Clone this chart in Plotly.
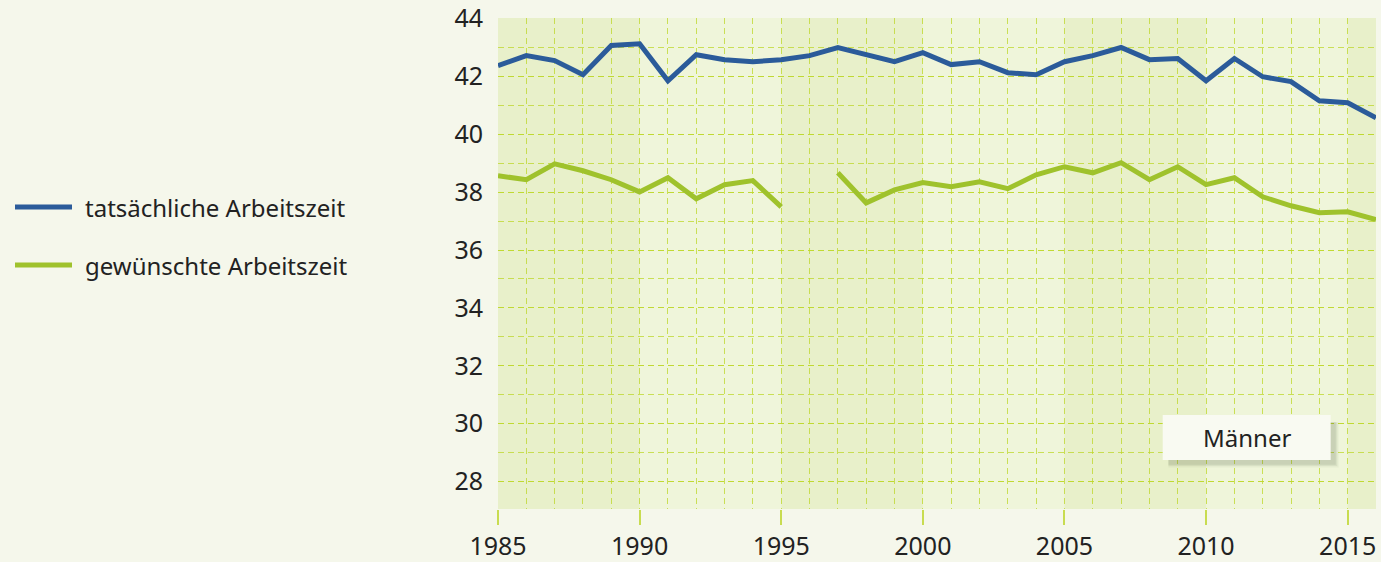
import plotly.graph_objects as go

years = list(range(1985, 2017))
actual = [42.37, 42.72, 42.55, 42.06, 43.07, 43.13, 41.85, 42.75, 42.58, 42.51,
          42.58, 42.72, 43.00, 42.75, 42.51, 42.82, 42.41, 42.51, 42.13, 42.06,
          42.51, 42.72, 43.00, 42.58, 42.62, 41.85, 42.62, 41.99, 41.82, 41.16,
          41.09, 40.57]
desired = [38.57, 38.43, 38.98, 38.74, 38.43, 38.01, 38.50, 37.77, 38.26, 38.40,
           37.49, None, 38.67, 37.63, 38.08, 38.33, 38.19, 38.36, 38.12, 38.60,
           38.88, 38.67, 39.02, 38.43, 38.88, 38.26, 38.50, 37.84, 37.53, 37.29,
           37.32, 37.05]
series_names = ["tatsächliche Arbeitszeit", "gewünschte Arbeitszeit"]
band_starts = [1985, 1995, 2005, 2015]
x_ticks = [1985, 1990, 1995, 2000, 2005, 2010, 2015]
y_ticks = [28, 30, 32, 34, 36, 38, 40, 42, 44]
panel_label = "Männer"

BLUE = "#2b5b9a"
GREEN = "#9fc22c"
GRID = "rgba(190,215,40,0.75)"
FONT = "Noto Sans"
TXT = "#222222"

PLOT_L, PLOT_R, PLOT_T, PLOT_B = 498, 1376, 18, 509


def px_x(px):
    return (px - PLOT_L) / (PLOT_R - PLOT_L)


def px_y(py):
    return (PLOT_B - py) / (PLOT_B - PLOT_T)


fig = go.Figure()
colors = [BLUE, GREEN]
for name, vals, col in zip(series_names, [actual, desired], colors):
    fig.add_trace(go.Scatter(x=years, y=vals, mode="lines", name=name,
                             line=dict(color=col, width=5), connectgaps=False,
                             showlegend=False, hoverinfo="skip"))

shapes = []
for s in band_starts:
    shapes.append(dict(type="rect", xref="x", yref="paper", x0=s, x1=min(s + 5, 2016),
                       y0=0, y1=1, fillcolor="rgba(200,220,120,0.16)", line_width=0,
                       layer="below"))
# Männer box with shadow
bx0, bx1, by0, by1 = 2008.47, 2014.4, 28.74, 30.30
for i, a in enumerate([0.05, 0.07, 0.09]):
    off = 0.28 - i * 0.05
    shapes.append(dict(type="rect", xref="x", yref="y",
                       x0=bx0 + 0.2, x1=bx1 + off,
                       y0=by0 - off * 0.9, y1=by1 - 0.25,
                       fillcolor=f"rgba(60,70,40,{a})", line_width=0, layer="above"))
shapes.append(dict(type="rect", xref="x", yref="y", x0=bx0, x1=bx1, y0=by0, y1=by1,
                   fillcolor="#f9faf2", line_width=0, layer="above"))

annotations = [dict(x=(bx0 + bx1) / 2, y=(by0 + by1) / 2, xref="x", yref="y",
                    text=panel_label, showarrow=False,
                    font=dict(size=24, color=TXT, family=FONT))]
# legend drawn manually (long line symbols)
for name, col, py in zip(series_names, colors, [207, 265]):
    shapes.append(dict(type="line", xref="paper", yref="paper",
                       x0=px_x(15), x1=px_x(72), y0=px_y(py), y1=px_y(py),
                       line=dict(color=col, width=5)))
    annotations.append(dict(x=px_x(83), y=px_y(py), xref="paper", yref="paper",
                            text=name, showarrow=False, xanchor="left",
                            yanchor="middle",
                            font=dict(size=24, color=TXT, family=FONT)))

fig.update_layout(
    width=1381, height=562,
    margin=dict(l=PLOT_L, r=1381 - PLOT_R, t=PLOT_T, b=562 - PLOT_B, pad=0,
                autoexpand=False),
    paper_bgcolor="#f5f7eb",
    plot_bgcolor="#eff5da",
    font=dict(family=FONT, size=25, color=TXT),
    shapes=shapes,
    annotations=annotations,
    showlegend=False,
    hovermode=False,
)
fig.update_xaxes(range=[1985, 2016], tickvals=x_ticks, showgrid=False, zeroline=False,
                 ticks="outside", ticklen=15, tickcolor="#c8dc50", tickwidth=1.5,
                 showline=False, ticklabelstandoff=0, automargin=False,
                 minor=dict(dtick=1, tick0=1985, showgrid=True, gridcolor=GRID,
                            griddash="6px,4px", gridwidth=1.2, ticks=""))
fig.update_yaxes(range=[27.05, 44.02], tickvals=y_ticks, showgrid=True, gridcolor=GRID,
                 griddash="6px,4px", gridwidth=1.2, zeroline=False, ticks="",
                 ticklabelstandoff=14, automargin=False,
                 minor=dict(dtick=1, tick0=27, showgrid=True, gridcolor=GRID,
                            griddash="6px,4px", gridwidth=1.2))
fig.write_html("out.html", config={"displayModeBar": False},
               post_script="document.body.style.margin='0';")
